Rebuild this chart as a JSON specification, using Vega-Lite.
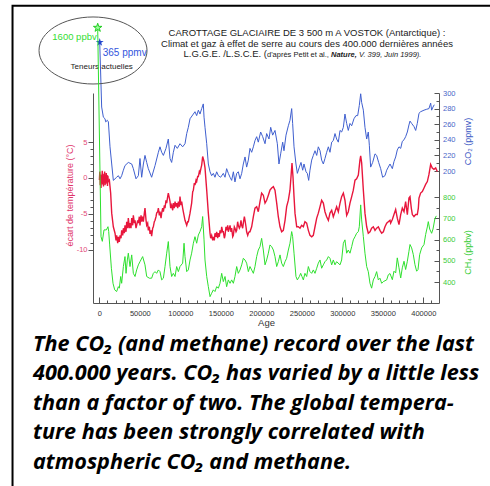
{
  "$schema": "https://vega.github.io/schema/vega-lite/v6.json",
  "width": 346,
  "height": 210,
  "autosize": {"type": "none"},
  "padding": {"left": 93, "top": 93, "right": 51, "bottom": 183},
  "background": "white",
  "config": {
    "view": {"stroke": null},
    "axis": {"grid": false, "labelFont": "Liberation Sans", "titleFont": "Liberation Sans", "domainColor": "#555", "tickColor": "#555", "labelOverlap": false, "labelFlush": false, "labelBound": false, "titleFontWeight": "normal"}
  },
  "datasets": {
    "temp": [
      {"age":100,"temp":-0.3},{"age":600,"temp":0.9},{"age":1100,"temp":-1.0},{"age":1600,"temp":0.5},{"age":2100,"temp":-1.4},{"age":2600,"temp":0.2},{"age":3100,"temp":-0.6},{"age":3600,"temp":1.0},{"age":4100,"temp":-0.9},{"age":4600,"temp":0.3},{"age":5100,"temp":-1.2},{"age":5600,"temp":0.6},{"age":6100,"temp":-0.4},{"age":6600,"temp":0.9},{"age":7100,"temp":-1.0},{"age":7600,"temp":0.2},{"age":8100,"temp":-0.8},{"age":8600,"temp":0.7},{"age":9100,"temp":-0.6},{"age":9600,"temp":0.4},{"age":10100,"temp":-1.1},{"age":10600,"temp":0.3},{"age":11100,"temp":-0.5},{"age":12400,"temp":-0.3},{"age":13200,"temp":-1.2},{"age":14000,"temp":-2.1},{"age":15300,"temp":-4.9},{"age":17300,"temp":-6.8},{"age":19400,"temp":-7.7},{"age":20600,"temp":-8.7},{"age":21400,"temp":-8.0},{"age":22700,"temp":-9.1},{"age":23500,"temp":-8.2},{"age":24700,"temp":-8.9},{"age":25600,"temp":-8.0},{"age":26800,"temp":-8.4},{"age":27600,"temp":-7.3},{"age":28900,"temp":-8.0},{"age":29700,"temp":-7.0},{"age":30900,"temp":-7.7},{"age":31700,"temp":-6.6},{"age":33000,"temp":-7.5},{"age":33800,"temp":-6.1},{"age":35000,"temp":-7.0},{"age":35800,"temp":-5.6},{"age":37100,"temp":-7.0},{"age":37900,"temp":-6.3},{"age":39100,"temp":-7.0},{"age":40000,"temp":-5.6},{"age":41200,"temp":-6.6},{"age":42000,"temp":-5.2},{"age":43300,"temp":-6.3},{"age":44100,"temp":-5.9},{"age":45300,"temp":-7.0},{"age":46100,"temp":-6.6},{"age":47400,"temp":-5.9},{"age":48200,"temp":-6.3},{"age":49400,"temp":-5.4},{"age":50200,"temp":-6.6},{"age":51500,"temp":-5.2},{"age":52300,"temp":-6.1},{"age":53500,"temp":-5.4},{"age":54400,"temp":-6.1},{"age":55600,"temp":-4.9},{"age":56400,"temp":-4.2},{"age":57700,"temp":-5.9},{"age":58500,"temp":-6.6},{"age":59700,"temp":-6.3},{"age":60500,"temp":-7.3},{"age":61800,"temp":-6.8},{"age":62600,"temp":-7.8},{"age":63800,"temp":-7.3},{"age":64600,"temp":-8.1},{"age":65900,"temp":-7.0},{"age":66700,"temp":-6.8},{"age":67900,"temp":-6.1},{"age":68800,"temp":-5.9},{"age":70000,"temp":-5.4},{"age":70800,"temp":-4.9},{"age":72100,"temp":-4.7},{"age":72900,"temp":-4.2},{"age":74100,"temp":-5.2},{"age":74900,"temp":-4.7},{"age":76200,"temp":-5.6},{"age":77000,"temp":-4.9},{"age":78200,"temp":-4.2},{"age":79100,"temp":-4.7},{"age":80300,"temp":-3.8},{"age":81100,"temp":-4.2},{"age":82300,"temp":-3.1},{"age":83200,"temp":-3.5},{"age":84400,"temp":-2.6},{"age":85200,"temp":-2.1},{"age":86500,"temp":-2.8},{"age":87300,"temp":-3.3},{"age":88100,"temp":-4.2},{"age":89300,"temp":-3.8},{"age":90600,"temp":-4.5},{"age":91400,"temp":-3.5},{"age":92600,"temp":-4.2},{"age":93500,"temp":-3.3},{"age":94700,"temp":-4.0},{"age":95500,"temp":-3.5},{"age":96800,"temp":-4.2},{"age":97600,"temp":-3.3},{"age":98800,"temp":-4.0},{"age":99600,"temp":-2.6},{"age":100900,"temp":-3.8},{"age":101700,"temp":-3.3},{"age":102900,"temp":-4.2},{"age":103700,"temp":-4.7},{"age":105800,"temp":-5.9},{"age":107900,"temp":-6.6},{"age":109100,"temp":-6.1},{"age":109900,"temp":-6.1},{"age":112000,"temp":-4.9},{"age":114000,"temp":-3.5},{"age":115300,"temp":-1.9},{"age":116100,"temp":-1.7},{"age":117300,"temp":-0.7},{"age":118100,"temp":-1.0},{"age":119400,"temp":-0.3},{"age":120200,"temp":-0.5},{"age":121400,"temp":0.2},{"age":122300,"temp":0.2},{"age":123500,"temp":0.9},{"age":124300,"temp":0.7},{"age":125600,"temp":1.4},{"age":126400,"temp":1.8},{"age":127600,"temp":3.0},{"age":128400,"temp":2.7},{"age":129300,"temp":2.3},{"age":130500,"temp":1.4},{"age":132600,"temp":-1.7},{"age":134600,"temp":-4.9},{"age":136700,"temp":-7.7},{"age":137500,"temp":-8.4},{"age":138700,"temp":-8.0},{"age":140000,"temp":-8.7},{"age":140800,"temp":-8.2},{"age":142000,"temp":-8.7},{"age":142800,"temp":-7.7},{"age":144100,"temp":-8.2},{"age":144900,"temp":-7.5},{"age":146100,"temp":-8.4},{"age":147000,"temp":-7.7},{"age":148200,"temp":-8.2},{"age":149000,"temp":-7.3},{"age":150200,"temp":-7.7},{"age":151100,"temp":-6.8},{"age":152300,"temp":-7.5},{"age":153100,"temp":-7.5},{"age":154400,"temp":-8.4},{"age":155200,"temp":-8.0},{"age":156400,"temp":-6.8},{"age":157200,"temp":-7.3},{"age":158500,"temp":-6.6},{"age":159300,"temp":-7.5},{"age":160500,"temp":-7.0},{"age":161400,"temp":-6.6},{"age":162600,"temp":-7.5},{"age":163400,"temp":-7.0},{"age":164700,"temp":-8.2},{"age":165500,"temp":-8.0},{"age":166700,"temp":-6.8},{"age":167500,"temp":-7.0},{"age":168800,"temp":-7.5},{"age":169600,"temp":-7.3},{"age":170800,"temp":-6.1},{"age":171600,"temp":-6.6},{"age":172900,"temp":-7.0},{"age":173700,"temp":-6.8},{"age":174900,"temp":-5.9},{"age":175800,"temp":-6.6},{"age":177000,"temp":-7.0},{"age":177800,"temp":-6.3},{"age":179100,"temp":-5.4},{"age":179900,"temp":-5.9},{"age":181100,"temp":-6.8},{"age":181900,"temp":-7.5},{"age":183200,"temp":-8.0},{"age":184000,"temp":-7.7},{"age":185200,"temp":-7.5},{"age":186000,"temp":-7.5},{"age":188100,"temp":-6.8},{"age":190200,"temp":-5.4},{"age":192200,"temp":-4.2},{"age":194300,"temp":-4.0},{"age":196300,"temp":-4.7},{"age":198400,"temp":-3.3},{"age":200400,"temp":-2.1},{"age":202500,"temp":-2.4},{"age":204600,"temp":-3.5},{"age":206600,"temp":-3.1},{"age":208700,"temp":-2.4},{"age":210700,"temp":-1.7},{"age":212800,"temp":-1.4},{"age":214900,"temp":-1.2},{"age":216900,"temp":-1.7},{"age":219000,"temp":-3.5},{"age":221000,"temp":-5.4},{"age":223100,"temp":-6.8},{"age":225100,"temp":-7.5},{"age":227200,"temp":-7.3},{"age":229300,"temp":-5.9},{"age":231300,"temp":-4.0},{"age":233400,"temp":-3.1},{"age":235400,"temp":-1.7},{"age":236700,"temp":0.2},{"age":237900,"temp":2.1},{"age":239100,"temp":0.2},{"age":240400,"temp":-2.6},{"age":241600,"temp":-4.9},{"age":243700,"temp":-6.8},{"age":245700,"temp":-6.8},{"age":247800,"temp":-7.0},{"age":249800,"temp":-6.6},{"age":251900,"temp":-6.8},{"age":253900,"temp":-6.1},{"age":256000,"temp":-6.3},{"age":258100,"temp":-7.3},{"age":260100,"temp":-8.0},{"age":262200,"temp":-8.2},{"age":264200,"temp":-8.0},{"age":266300,"temp":-6.8},{"age":268400,"temp":-5.6},{"age":270400,"temp":-4.9},{"age":272500,"temp":-4.0},{"age":274500,"temp":-3.1},{"age":276600,"temp":-3.5},{"age":278600,"temp":-4.7},{"age":280700,"temp":-5.4},{"age":282800,"temp":-5.9},{"age":284800,"temp":-4.9},{"age":286900,"temp":-4.5},{"age":288900,"temp":-5.4},{"age":291000,"temp":-4.7},{"age":293000,"temp":-4.0},{"age":295100,"temp":-4.7},{"age":297200,"temp":-3.5},{"age":299200,"temp":-2.6},{"age":301300,"temp":-2.1},{"age":303300,"temp":-3.1},{"age":305400,"temp":-5.2},{"age":307400,"temp":-4.7},{"age":309500,"temp":-3.5},{"age":311600,"temp":-2.6},{"age":313600,"temp":-1.7},{"age":315700,"temp":-0.3},{"age":317700,"temp":-0.1},{"age":319800,"temp":0.4},{"age":321800,"temp":2.5},{"age":322700,"temp":3.1},{"age":323900,"temp":2.1},{"age":326000,"temp":-1.7},{"age":328000,"temp":-4.9},{"age":330100,"temp":-6.8},{"age":332100,"temp":-7.7},{"age":334200,"temp":-7.5},{"age":336200,"temp":-7.0},{"age":338300,"temp":-6.8},{"age":340400,"temp":-7.3},{"age":342400,"temp":-7.0},{"age":344500,"temp":-6.8},{"age":346500,"temp":-7.3},{"age":348600,"temp":-7.7},{"age":350700,"temp":-7.5},{"age":352700,"temp":-6.8},{"age":354800,"temp":-6.3},{"age":356800,"temp":-6.1},{"age":358900,"temp":-5.9},{"age":359700,"temp":-6.3},{"age":361800,"temp":-5.8},{"age":363800,"temp":-5.1},{"age":365900,"temp":-4.4},{"age":367900,"temp":-5.6},{"age":370000,"temp":-6.5},{"age":372100,"temp":-5.1},{"age":374100,"temp":-4.2},{"age":376200,"temp":-4.7},{"age":378200,"temp":-3.3},{"age":380300,"temp":-5.1},{"age":382300,"temp":-2.8},{"age":383600,"temp":-2.6},{"age":385200,"temp":-4.2},{"age":386500,"temp":-5.1},{"age":388500,"temp":-5.4},{"age":390600,"temp":-5.1},{"age":392600,"temp":-5.1},{"age":393900,"temp":-4.2},{"age":394700,"temp":-2.8},{"age":396700,"temp":-2.1},{"age":398800,"temp":-1.9},{"age":400900,"temp":-1.4},{"age":402900,"temp":-0.9},{"age":405000,"temp":-0.5},{"age":407000,"temp":0.5},{"age":409100,"temp":1.9},{"age":411100,"temp":1.4},{"age":413200,"temp":1.2},{"age":415300,"temp":1.4},{"age":417300,"temp":0.9}
    ],
    "co2": [
      {"age":500,"co2":365},{"age":2900,"co2":282},{"age":5000,"co2":269},{"age":7000,"co2":267},{"age":7900,"co2":263},{"age":9900,"co2":265},{"age":11200,"co2":263},{"age":13200,"co2":231},{"age":15300,"co2":209},{"age":17300,"co2":188},{"age":19400,"co2":190},{"age":21400,"co2":192},{"age":23500,"co2":194},{"age":25600,"co2":190},{"age":27600,"co2":194},{"age":29700,"co2":201},{"age":31700,"co2":207},{"age":35800,"co2":211},{"age":40000,"co2":209},{"age":42000,"co2":203},{"age":45300,"co2":190},{"age":48200,"co2":194},{"age":50200,"co2":216},{"age":52300,"co2":192},{"age":54400,"co2":209},{"age":56400,"co2":220},{"age":58500,"co2":211},{"age":60500,"co2":203},{"age":64600,"co2":192},{"age":68800,"co2":207},{"age":72900,"co2":224},{"age":74900,"co2":231},{"age":77000,"co2":224},{"age":79100,"co2":220},{"age":82300,"co2":229},{"age":85200,"co2":241},{"age":87300,"co2":216},{"age":89300,"co2":211},{"age":91400,"co2":224},{"age":93500,"co2":233},{"age":96300,"co2":229},{"age":99600,"co2":235},{"age":102900,"co2":231},{"age":105800,"co2":235},{"age":107900,"co2":248},{"age":109900,"co2":256},{"age":112000,"co2":267},{"age":116100,"co2":273},{"age":118100,"co2":276},{"age":120200,"co2":271},{"age":122300,"co2":278},{"age":124300,"co2":273},{"age":126400,"co2":280},{"age":128400,"co2":286},{"age":129300,"co2":269},{"age":130500,"co2":256},{"age":132600,"co2":235},{"age":134600,"co2":209},{"age":136700,"co2":199},{"age":138700,"co2":194},{"age":140800,"co2":197},{"age":142800,"co2":192},{"age":144900,"co2":199},{"age":147000,"co2":194},{"age":149800,"co2":192},{"age":153100,"co2":197},{"age":155200,"co2":192},{"age":157200,"co2":203},{"age":159300,"co2":197},{"age":161400,"co2":192},{"age":163400,"co2":188},{"age":165500,"co2":199},{"age":167500,"co2":186},{"age":169600,"co2":197},{"age":171600,"co2":199},{"age":173700,"co2":190},{"age":175800,"co2":197},{"age":177800,"co2":209},{"age":179900,"co2":218},{"age":181900,"co2":205},{"age":184000,"co2":214},{"age":186000,"co2":229},{"age":188100,"co2":224},{"age":190200,"co2":231},{"age":192200,"co2":239},{"age":194300,"co2":244},{"age":196300,"co2":237},{"age":199200,"co2":250},{"age":201700,"co2":244},{"age":204600,"co2":235},{"age":206600,"co2":248},{"age":209500,"co2":241},{"age":211600,"co2":256},{"age":214000,"co2":246},{"age":216900,"co2":252},{"age":219800,"co2":235},{"age":221800,"co2":209},{"age":223900,"co2":222},{"age":226400,"co2":237},{"age":228000,"co2":226},{"age":230500,"co2":246},{"age":233400,"co2":258},{"age":235400,"co2":265},{"age":237500,"co2":280},{"age":238700,"co2":261},{"age":240400,"co2":231},{"age":242800,"co2":209},{"age":244500,"co2":197},{"age":247000,"co2":205},{"age":249000,"co2":211},{"age":251100,"co2":201},{"age":252700,"co2":209},{"age":255200,"co2":199},{"age":256800,"co2":197},{"age":258500,"co2":188},{"age":260100,"co2":201},{"age":262200,"co2":214},{"age":264200,"co2":220},{"age":266300,"co2":226},{"age":268400,"co2":220},{"age":270400,"co2":231},{"age":272500,"co2":226},{"age":274500,"co2":214},{"age":276600,"co2":209},{"age":278600,"co2":216},{"age":280700,"co2":224},{"age":282800,"co2":231},{"age":284800,"co2":224},{"age":286900,"co2":237},{"age":288900,"co2":239},{"age":291000,"co2":248},{"age":293000,"co2":241},{"age":295100,"co2":237},{"age":297200,"co2":252},{"age":299200,"co2":250},{"age":301300,"co2":256},{"age":303300,"co2":273},{"age":305400,"co2":261},{"age":307400,"co2":252},{"age":309500,"co2":261},{"age":311600,"co2":258},{"age":314400,"co2":267},{"age":316900,"co2":271},{"age":319000,"co2":271},{"age":321000,"co2":284},{"age":322700,"co2":299},{"age":323900,"co2":288},{"age":326000,"co2":278},{"age":328000,"co2":256},{"age":330100,"co2":241},{"age":332100,"co2":250},{"age":333400,"co2":233},{"age":335000,"co2":205},{"age":337500,"co2":211},{"age":340400,"co2":222},{"age":342400,"co2":220},{"age":344900,"co2":211},{"age":347400,"co2":203},{"age":349800,"co2":192},{"age":352700,"co2":194},{"age":354800,"co2":201},{"age":356800,"co2":205},{"age":358900,"co2":209},{"age":361800,"co2":203},{"age":363800,"co2":212},{"age":365900,"co2":218},{"age":367900,"co2":227},{"age":370000,"co2":231},{"age":372100,"co2":229},{"age":374100,"co2":238},{"age":376200,"co2":240},{"age":378200,"co2":244},{"age":380300,"co2":250},{"age":382300,"co2":259},{"age":383600,"co2":264},{"age":385600,"co2":261},{"age":388500,"co2":257},{"age":390600,"co2":252},{"age":392600,"co2":261},{"age":394700,"co2":274},{"age":396700,"co2":276},{"age":400900,"co2":278},{"age":403700,"co2":279},{"age":407000,"co2":280},{"age":409100,"co2":287},{"age":410300,"co2":278},{"age":412000,"co2":282},{"age":413600,"co2":285}
    ],
    "ch4": [
      {"age":-2000,"ch4":1600},{"age":2100,"ch4":614},{"age":3700,"ch4":592},{"age":5800,"ch4":646},{"age":8700,"ch4":646},{"age":10700,"ch4":661},{"age":11600,"ch4":638},{"age":12800,"ch4":575},{"age":14900,"ch4":465},{"age":16900,"ch4":394},{"age":19000,"ch4":363},{"age":21400,"ch4":355},{"age":23500,"ch4":378},{"age":24700,"ch4":371},{"age":26400,"ch4":426},{"age":27600,"ch4":394},{"age":29700,"ch4":473},{"age":31700,"ch4":520},{"age":33000,"ch4":441},{"age":34600,"ch4":504},{"age":35800,"ch4":536},{"age":37900,"ch4":473},{"age":40000,"ch4":528},{"age":42000,"ch4":441},{"age":44100,"ch4":426},{"age":46100,"ch4":457},{"age":48200,"ch4":481},{"age":50200,"ch4":496},{"age":53500,"ch4":520},{"age":56400,"ch4":481},{"age":58500,"ch4":426},{"age":61800,"ch4":418},{"age":64600,"ch4":418},{"age":66700,"ch4":441},{"age":68800,"ch4":449},{"age":70800,"ch4":441},{"age":72900,"ch4":457},{"age":74900,"ch4":449},{"age":77000,"ch4":410},{"age":79100,"ch4":418},{"age":81100,"ch4":473},{"age":83200,"ch4":536},{"age":85200,"ch4":591},{"age":87300,"ch4":473},{"age":89300,"ch4":426},{"age":91400,"ch4":441},{"age":93500,"ch4":426},{"age":95500,"ch4":473},{"age":97600,"ch4":449},{"age":99600,"ch4":473},{"age":102900,"ch4":489},{"age":104600,"ch4":583},{"age":105800,"ch4":520},{"age":107900,"ch4":449},{"age":109900,"ch4":457},{"age":112000,"ch4":504},{"age":114000,"ch4":536},{"age":116100,"ch4":583},{"age":118100,"ch4":614},{"age":120200,"ch4":583},{"age":122300,"ch4":622},{"age":124300,"ch4":638},{"age":126400,"ch4":661},{"age":127600,"ch4":709},{"age":129300,"ch4":599},{"age":130500,"ch4":504},{"age":132600,"ch4":426},{"age":134600,"ch4":378},{"age":136700,"ch4":331},{"age":138700,"ch4":347},{"age":140800,"ch4":363},{"age":142800,"ch4":355},{"age":144900,"ch4":378},{"age":147000,"ch4":371},{"age":149000,"ch4":394},{"age":151100,"ch4":441},{"age":153100,"ch4":402},{"age":155200,"ch4":426},{"age":157200,"ch4":378},{"age":159300,"ch4":410},{"age":161400,"ch4":394},{"age":163400,"ch4":410},{"age":165500,"ch4":394},{"age":167500,"ch4":426},{"age":169600,"ch4":473},{"age":171600,"ch4":441},{"age":173700,"ch4":457},{"age":175800,"ch4":481},{"age":177800,"ch4":512},{"age":179900,"ch4":504},{"age":181900,"ch4":489},{"age":184000,"ch4":449},{"age":186000,"ch4":473},{"age":188100,"ch4":457},{"age":190200,"ch4":441},{"age":192200,"ch4":473},{"age":194300,"ch4":520},{"age":196300,"ch4":551},{"age":198400,"ch4":567},{"age":200400,"ch4":606},{"age":202500,"ch4":551},{"age":204600,"ch4":481},{"age":206600,"ch4":504},{"age":208700,"ch4":536},{"age":210700,"ch4":575},{"age":212800,"ch4":567},{"age":214900,"ch4":551},{"age":216900,"ch4":520},{"age":219000,"ch4":473},{"age":221000,"ch4":496},{"age":223100,"ch4":528},{"age":225100,"ch4":489},{"age":227200,"ch4":473},{"age":229300,"ch4":496},{"age":231300,"ch4":512},{"age":233400,"ch4":551},{"age":235400,"ch4":583},{"age":237500,"ch4":638},{"age":238700,"ch4":614},{"age":240400,"ch4":536},{"age":242800,"ch4":426},{"age":244500,"ch4":410},{"age":247000,"ch4":426},{"age":248600,"ch4":441},{"age":250200,"ch4":426},{"age":251900,"ch4":410},{"age":253900,"ch4":441},{"age":256000,"ch4":426},{"age":258100,"ch4":473},{"age":260100,"ch4":449},{"age":262200,"ch4":441},{"age":264200,"ch4":457},{"age":266300,"ch4":441},{"age":268400,"ch4":465},{"age":270400,"ch4":489},{"age":272500,"ch4":504},{"age":274500,"ch4":465},{"age":276600,"ch4":481},{"age":278600,"ch4":496},{"age":280700,"ch4":504},{"age":282800,"ch4":520},{"age":284800,"ch4":512},{"age":286900,"ch4":481},{"age":288900,"ch4":504},{"age":291000,"ch4":481},{"age":293000,"ch4":496},{"age":297200,"ch4":481},{"age":299200,"ch4":504},{"age":301300,"ch4":583},{"age":303300,"ch4":599},{"age":305400,"ch4":536},{"age":307400,"ch4":551},{"age":309500,"ch4":536},{"age":311600,"ch4":567},{"age":313600,"ch4":599},{"age":315700,"ch4":614},{"age":317700,"ch4":630},{"age":319800,"ch4":638},{"age":321000,"ch4":661},{"age":322700,"ch4":764},{"age":323900,"ch4":693},{"age":326000,"ch4":614},{"age":328000,"ch4":536},{"age":330100,"ch4":473},{"age":332100,"ch4":449},{"age":334200,"ch4":394},{"age":336200,"ch4":371},{"age":338300,"ch4":410},{"age":340400,"ch4":426},{"age":342400,"ch4":449},{"age":344500,"ch4":410},{"age":346500,"ch4":418},{"age":348600,"ch4":394},{"age":350700,"ch4":402},{"age":354800,"ch4":410},{"age":356800,"ch4":434},{"age":358900,"ch4":440},{"age":361800,"ch4":411},{"age":363800,"ch4":451},{"age":365900,"ch4":443},{"age":367900,"ch4":514},{"age":370000,"ch4":467},{"age":372100,"ch4":419},{"age":374100,"ch4":467},{"age":376200,"ch4":498},{"age":378200,"ch4":459},{"age":380300,"ch4":498},{"age":382300,"ch4":545},{"age":383600,"ch4":577},{"age":385600,"ch4":561},{"age":387700,"ch4":529},{"age":389700,"ch4":482},{"age":391800,"ch4":451},{"age":393500,"ch4":459},{"age":395500,"ch4":529},{"age":398000,"ch4":561},{"age":400900,"ch4":577},{"age":402900,"ch4":624},{"age":405000,"ch4":660},{"age":406200,"ch4":685},{"age":407900,"ch4":650},{"age":410300,"ch4":630},{"age":412000,"ch4":650},{"age":414400,"ch4":700},{"age":416100,"ch4":712}
    ]
  },
  "layer": [
    {
      "layer": [
        {
          "data": {"name": "temp"},
          "mark": {"type": "line", "color": "#e8163c", "strokeWidth": 1.4},
          "encoding": {
            "x": {"field": "age", "type": "quantitative", "scale": {"domain": [-7800, 419400], "nice": false, "zero": false},
              "axis": {"orient": "bottom", "values": [0,50000,100000,150000,200000,250000,300000,350000,400000], "format": "d",
                "labelOverlap": false, "labelBound": false, "labelFlush": false,
                "tickSize": -6, "labelPadding": 12, "labelFontSize": 7.5, "labelColor": "#333", "labelBaseline": "top",
                "title": "Age", "titleFontSize": 9.5, "titleColor": "#333", "titleY": 14, "titleBaseline": "top"}},
            "y": {"field": "temp", "type": "quantitative", "scale": {"domain": [-17.43, 11.85], "nice": false, "zero": false},
              "axis": {"orient": "left", "values": [-10,-5,0,5], "format": "d",
                "labelExpr": "replace(datum.label, '−', '-')",
                "labelOverlap": false, "labelBound": false, "labelFlush": false,
                "tickSize": 5, "labelPadding": 1, "labelFontSize": 7.5, "labelColor": "#e24a78",
                "title": "écart de température (°C)", "titleFontSize": 9, "titleColor": "#e0346a", "titleAngle": 270, "titleX": -24, "titleY": 102, "titleAlign": "center", "titleBaseline": "middle"}}
          }
        },
        {
          "data": {"values": [{}]},
          "mark": {"type": "rect", "filled": false, "color": "black", "strokeWidth": 2},
          "encoding": {
            "x": {"datum": -107160, "type": "quantitative", "scale": {"domain": [-7800, 419400], "nice": false, "zero": false},
              "axis": {"orient": "bottom", "values": [10000,20000,30000,40000,60000,70000,80000,90000,110000,120000,130000,140000,160000,170000,180000,190000,210000,220000,230000,240000,260000,270000,280000,290000,310000,320000,330000,340000,360000,370000,380000,390000,410000], "tickSize": -3, "labels": false, "domain": false, "title": null}},
            "x2": {"datum": 500000},
            "y": {"datum": 24.02, "type": "quantitative", "scale": {"domain": [-17.43, 11.85], "nice": false, "zero": false},
              "axis": {"orient": "left", "values": [-9,-8,-7,-6,-4,-3,-2,-1,1,2,3,4], "tickSize": 3, "labels": false, "domain": false, "title": null}},
            "y2": {"datum": -45}
          }
        },
        {
          "data": {"values": [{}]},
          "mark": {"type": "text", "text": ["CAROTTAGE GLACIAIRE DE 3 500 m A VOSTOK (Antarctique) :", "Climat et gaz à effet de serre au cours des 400.000 dernières années"], "font": "Liberation Sans", "fontSize": 9.5, "lineHeight": 10.7, "align": "center", "baseline": "alphabetic", "color": "#1a1a1a"},
          "encoding": {
            "x": {"datum": 256420, "type": "quantitative", "scale": {"domain": [-7800, 419400], "nice": false, "zero": false}, "axis": null},
            "y": {"datum": 19.8, "type": "quantitative", "scale": {"domain": [-17.43, 11.85], "nice": false, "zero": false}, "axis": null}
          }
        },
        {
          "data": {"values": [{}]},
          "mark": {"type": "text", "text": "L.G.G.E. /L.S.C.E. (", "font": "Liberation Sans", "fontSize": 9.5, "align": "right", "baseline": "alphabetic", "color": "#1a1a1a"},
          "encoding": {
            "x": {"datum": 207040, "type": "quantitative", "scale": {"domain": [-7800, 419400], "nice": false, "zero": false}, "axis": null},
            "y": {"datum": 16.83, "type": "quantitative", "scale": {"domain": [-17.43, 11.85], "nice": false, "zero": false}, "axis": null}
          }
        },
        {
          "data": {"values": [{}]},
          "mark": {"type": "text", "text": "d'après Petit et al.,", "font": "Liberation Sans", "fontSize": 7.5, "align": "left", "baseline": "alphabetic", "color": "#1a1a1a"},
          "encoding": {
            "x": {"datum": 207040, "type": "quantitative", "scale": {"domain": [-7800, 419400], "nice": false, "zero": false}, "axis": null},
            "y": {"datum": 16.83, "type": "quantitative", "scale": {"domain": [-17.43, 11.85], "nice": false, "zero": false}, "axis": null}
          }
        },
        {
          "data": {"values": [{}]},
          "mark": {"type": "text", "text": "Nature,", "font": "Liberation Sans", "fontSize": 7.5, "fontWeight": "bold", "fontStyle": "italic", "align": "left", "baseline": "alphabetic", "dx": 64, "color": "#1a1a1a"},
          "encoding": {
            "x": {"datum": 207040, "type": "quantitative", "scale": {"domain": [-7800, 419400], "nice": false, "zero": false}, "axis": null},
            "y": {"datum": 16.83, "type": "quantitative", "scale": {"domain": [-17.43, 11.85], "nice": false, "zero": false}, "axis": null}
          }
        },
        {
          "data": {"values": [{}]},
          "mark": {"type": "text", "text": "V. 399, Juin 1999).", "font": "Liberation Sans", "fontSize": 7.5, "fontStyle": "italic", "align": "left", "baseline": "alphabetic", "dx": 92, "color": "#1a1a1a"},
          "encoding": {
            "x": {"datum": 207040, "type": "quantitative", "scale": {"domain": [-7800, 419400], "nice": false, "zero": false}, "axis": null},
            "y": {"datum": 16.83, "type": "quantitative", "scale": {"domain": [-17.43, 11.85], "nice": false, "zero": false}, "axis": null}
          }
        },
        {
          "data": {"values": [{}]},
          "mark": {"type": "text", "text": ["The CO₂ (and methane) record over the last", "400.000 years. CO₂ has varied by a little less", "than a factor of two. The global tempera-", "ture has been strongly correlated with", "atmospheric CO₂ and methane."], "font": "Open Sans", "fontSize": 21.6, "fontWeight": "bold", "fontStyle": "italic", "lineHeight": 29.5, "align": "left", "baseline": "alphabetic", "color": "black"},
          "encoding": {
            "x": {"datum": -81850, "type": "quantitative", "scale": {"domain": [-7800, 419400], "nice": false, "zero": false}, "axis": null},
            "y": {"datum": -24.12, "type": "quantitative", "scale": {"domain": [-17.43, 11.85], "nice": false, "zero": false}, "axis": null}
          }
        }
      ],
      "resolve": {"axis": {"x": "independent", "y": "independent"}}
    },
    {
      "layer": [
        {
          "data": {"name": "co2"},
          "mark": {"type": "line", "color": "#3f5fcf", "strokeWidth": 1},
          "encoding": {
            "x": {"field": "age", "type": "quantitative", "scale": {"domain": [-7800, 419400], "nice": false, "zero": false}, "axis": null},
            "y": {"field": "co2", "type": "quantitative", "scale": {"domain": [30.8, 300], "nice": false, "zero": false},
              "axis": {"orient": "right", "values": [200,220,240,260,280,300], "format": "d",
                "labelOverlap": false, "labelBound": false, "labelFlush": false,
                "tickSize": -5, "labelPadding": 8.5, "labelFontSize": 7.5, "labelColor": "#4a66c8",
                "title": "CO₂ (ppmv)", "titleFontSize": 9, "titleColor": "#3a58c4", "titleAngle": 270, "titleX": 28, "titleY": 48, "titleAlign": "center", "titleBaseline": "middle"}}
          }
        },
        {
          "data": {"values": [{}]},
          "mark": {"type": "point", "shape": "M1,0C1,0.3426,0.5523,0.6204,0,0.6204C-0.5523,0.6204,-1,0.3426,-1,0C-1,-0.3426,-0.5523,-0.6204,0,-0.6204C0.5523,-0.6204,1,-0.3426,1,0Z", "size": 11664, "filled": false, "color": "#555", "strokeWidth": 1, "opacity": 1},
          "encoding": {
            "x": {"datum": -7778, "type": "quantitative", "scale": {"domain": [-7800, 419400], "nice": false, "zero": false}, "axis": null},
            "y": {"datum": 354.5, "type": "quantitative", "scale": {"domain": [30.8, 300], "nice": false, "zero": false},
              "axis": {"orient": "right", "values": [210,230,250,270,290], "tickSize": -3, "labels": false, "domain": false, "title": null}}
          }
        },
        {
          "data": {"values": [{}]},
          "mark": {"type": "point", "shape": "M0,-1L0.2234,-0.3074L0.951,-0.309L0.3614,0.1174L0.588,0.809L0,0.38L-0.588,0.809L-0.3614,0.1174L-0.951,-0.309L-0.2234,-0.3074Z", "size": 70, "filled": true, "color": "#2244cc", "opacity": 1},
          "encoding": {
            "x": {"datum": 500, "type": "quantitative", "scale": {"domain": [-7800, 419400], "nice": false, "zero": false}, "axis": null},
            "y": {"datum": 365, "type": "quantitative", "scale": {"domain": [30.8, 300], "nice": false, "zero": false}, "axis": null}
          }
        },
        {
          "data": {"values": [{}]},
          "mark": {"type": "text", "text": "365 ppmv", "font": "Liberation Sans", "fontSize": 10, "align": "left", "baseline": "middle", "dx": 3, "dy": 11, "color": "#3355dd"},
          "encoding": {
            "x": {"datum": 500, "type": "quantitative", "scale": {"domain": [-7800, 419400], "nice": false, "zero": false}, "axis": null},
            "y": {"datum": 365, "type": "quantitative", "scale": {"domain": [30.8, 300], "nice": false, "zero": false}, "axis": null}
          }
        },
        {
          "data": {"values": [{}]},
          "mark": {"type": "text", "text": "Teneurs actuelles", "font": "Liberation Sans", "fontSize": 8, "align": "center", "baseline": "middle", "dx": 2, "dy": 25, "color": "#222"},
          "encoding": {
            "x": {"datum": 500, "type": "quantitative", "scale": {"domain": [-7800, 419400], "nice": false, "zero": false}, "axis": null},
            "y": {"datum": 365, "type": "quantitative", "scale": {"domain": [30.8, 300], "nice": false, "zero": false}, "axis": null}
          }
        }
      ],
      "resolve": {"axis": {"x": "independent", "y": "independent"}}
    },
    {
      "layer": [
        {
          "data": {"name": "ch4"},
          "mark": {"type": "line", "color": "#2ee02e", "strokeWidth": 1},
          "encoding": {
            "x": {"field": "age", "type": "quantitative", "scale": {"domain": [-7800, 419400], "nice": false, "zero": false}, "axis": null},
            "y": {"field": "ch4", "type": "quantitative", "scale": {"domain": [301, 1292], "nice": false, "zero": false},
              "axis": {"orient": "right", "values": [400,500,600,700,800], "format": "d",
                "labelOverlap": false, "labelBound": false, "labelFlush": false,
                "tickSize": -5, "labelPadding": 8.5, "labelFontSize": 7.5, "labelColor": "#3ccc3c", "domain": false,
                "title": "CH₄ (ppbv)", "titleFontSize": 9, "titleColor": "#33cc33", "titleAngle": 270, "titleX": 28, "titleY": 159, "titleAlign": "center", "titleBaseline": "middle"}}
          }
        },
        {
          "data": {"values": [{}]},
          "mark": {"type": "point", "shape": "M0,-1L0.2234,-0.3074L0.951,-0.309L0.3614,0.1174L0.588,0.809L0,0.38L-0.588,0.809L-0.3614,0.1174L-0.951,-0.309L-0.2234,-0.3074Z", "size": 80, "filled": true, "fill": "#99ff99", "stroke": "#22cc22", "strokeWidth": 1, "opacity": 1},
          "encoding": {
            "x": {"datum": -2000, "type": "quantitative", "scale": {"domain": [-7800, 419400], "nice": false, "zero": false}, "axis": null},
            "y": {"datum": 1600, "type": "quantitative", "scale": {"domain": [301, 1292], "nice": false, "zero": false},
              "axis": {"orient": "right", "values": [450,550,650,750], "tickSize": -3, "labels": false, "domain": false, "title": null}}
          }
        },
        {
          "data": {"values": [{}]},
          "mark": {"type": "text", "text": "1600 ppbv", "font": "Liberation Sans", "fontSize": 9.5, "align": "right", "baseline": "middle", "dx": -1, "dy": 9, "color": "#33dd33"},
          "encoding": {
            "x": {"datum": -2000, "type": "quantitative", "scale": {"domain": [-7800, 419400], "nice": false, "zero": false}, "axis": null},
            "y": {"datum": 1600, "type": "quantitative", "scale": {"domain": [301, 1292], "nice": false, "zero": false}, "axis": null}
          }
        }
      ],
      "resolve": {"axis": {"x": "independent", "y": "independent"}}
    }
  ],
  "resolve": {"scale": {"y": "independent"}, "axis": {"x": "independent", "y": "independent"}}
}
